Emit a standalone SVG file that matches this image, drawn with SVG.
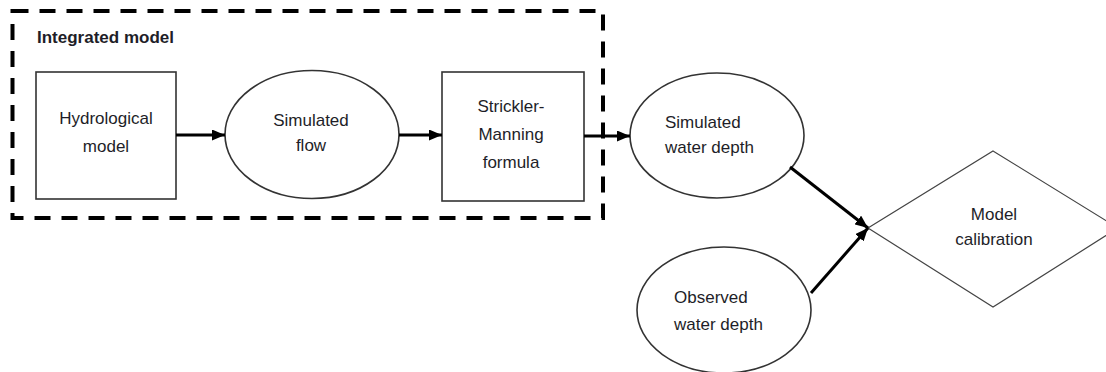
<svg xmlns="http://www.w3.org/2000/svg" width="1106" height="372" viewBox="0 0 1106 372">
  <style>
    .lbl { font-family: "Liberation Sans", Arial, sans-serif; font-size: 17px; fill: #1e1e28; }
    .title { font-family: "Liberation Sans", Arial, sans-serif; font-size: 17px; font-weight: bold; fill: #1e1e28; }
    .box { fill: #ffffff; stroke: #333333; stroke-width: 1.6; }
    .ell { fill: #ffffff; stroke: #333333; stroke-width: 1.6; }
    .dia { fill: #ffffff; stroke: #444444; stroke-width: 1.2; }
    .edge { stroke: #000000; stroke-width: 3; fill: none; }
    .frame { fill: none; stroke: #000000; stroke-width: 4; stroke-dasharray: 16 11; }
  </style>
  <defs>
    <marker id="arrow" markerUnits="userSpaceOnUse" markerWidth="13" markerHeight="11" refX="13" refY="5.5" orient="auto">
      <path d="M0,0 L13,5.5 L0,11 z" fill="#000000"/>
    </marker>
  </defs>
  <rect width="1106" height="372" fill="#ffffff"/>

  <g id="integrated-model">
    <rect class="frame" x="12.5" y="11" width="590.5" height="207"/>
    <text class="title" x="37" y="43">Integrated model</text>
  </g>

  <g id="hydrological-model">
    <rect class="box" x="36" y="72" width="140" height="127"/>
    <text class="lbl" x="106" y="124" text-anchor="middle">Hydrological</text>
    <text class="lbl" x="106" y="151.5" text-anchor="middle">model</text>
  </g>

  <g id="simulated-flow">
    <ellipse class="ell" cx="312" cy="134.5" rx="87" ry="64"/>
    <text class="lbl" x="311" y="126" text-anchor="middle">Simulated</text>
    <text class="lbl" x="311" y="151" text-anchor="middle">flow</text>
  </g>

  <g id="strickler-manning">
    <rect class="box" x="442" y="72" width="142" height="129"/>
    <text class="lbl" x="511" y="112" text-anchor="middle">Strickler-</text>
    <text class="lbl" x="511" y="139.5" text-anchor="middle">Manning</text>
    <text class="lbl" x="511" y="167.5" text-anchor="middle">formula</text>
  </g>

  <g id="simulated-water-depth">
    <ellipse class="ell" cx="717" cy="135.5" rx="87" ry="62.5"/>
    <text class="lbl" x="665" y="128">Simulated</text>
    <text class="lbl" x="665" y="153">water depth</text>
  </g>

  <g id="observed-water-depth">
    <ellipse class="ell" cx="724" cy="310" rx="87" ry="63"/>
    <text class="lbl" x="674" y="303">Observed</text>
    <text class="lbl" x="674" y="330">water depth</text>
  </g>

  <g id="model-calibration">
    <polygon class="dia" points="993,151 1118,228 993,307 868,228"/>
    <text class="lbl" x="994" y="220" text-anchor="middle">Model</text>
    <text class="lbl" x="994" y="245" text-anchor="middle">calibration</text>
  </g>

  <g id="connectors">
    <line class="edge" x1="176" y1="135" x2="225" y2="135" marker-end="url(#arrow)"/>
    <line class="edge" x1="399" y1="135" x2="442" y2="135" marker-end="url(#arrow)"/>
    <line class="edge" x1="584" y1="136" x2="630" y2="136" marker-end="url(#arrow)"/>
    <line class="edge" x1="790" y1="167" x2="868" y2="228" marker-end="url(#arrow)"/>
    <line class="edge" x1="811" y1="293" x2="868" y2="228" marker-end="url(#arrow)"/>
  </g>
</svg>
